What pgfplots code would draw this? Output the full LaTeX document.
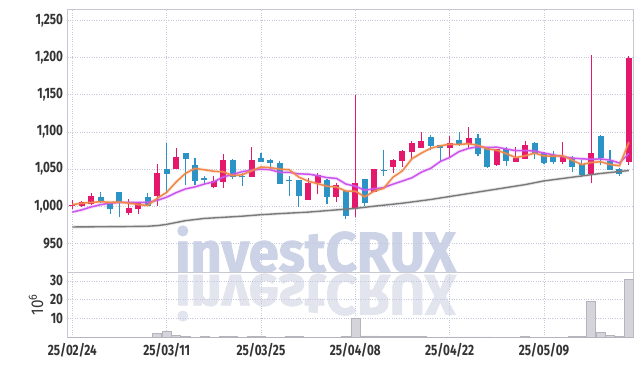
\documentclass[border=0pt]{standalone}
\usepackage{fontspec}
\setmainfont{Fira Sans}[FakeStretch=0.78]
\newfontfamily\wmfont{Fira Sans}[FakeStretch=0.95, BoldFeatures={FakeBold=1.5}]
\newfontfamily\lblfont{Fira Sans}[FakeStretch=0.9]
\usepackage{pgfplots}
\usepackage{pgfplotstable}
\pgfplotsset{compat=1.18}
\definecolor{upc}{HTML}{E5196B}
\definecolor{dnc}{HTML}{2B93C5}
\definecolor{ma5}{HTML}{F0884A}
\definecolor{ma10}{HTML}{CC55EE}
\definecolor{malong}{HTML}{7A7A7A}
\definecolor{gridc}{HTML}{C4C8DC}
\definecolor{axc}{HTML}{C8C8D2}
\definecolor{labc}{HTML}{333333}
\definecolor{volf}{HTML}{D4D4DA}
\definecolor{vold}{HTML}{B4B4BC}
\definecolor{wmc}{HTML}{CDD3E6}
\definecolor{wmr}{HTML}{E2E4EE}

\pgfplotstableread{
i o h l c
0 1000 1008 996 1002
1 1001 1007 999 1006
2 1003 1018 1002 1014
6 991 1009 988 998
7 997 1006 990 1005
9 1014 1057 1000 1045
11 1050 1078 1050 1067
15 1026 1040 1024 1034
16 1033 1070 1024 1063
19 1040 1079 1040 1063
25 1009 1038 1009 1032
26 1032 1045 1016 1042
28 1012 1031 1006 1029
30 997 1150 985 1031
32 1019 1050 1019 1050
34 1053 1064 1045 1062
35 1061 1076 1053 1074
36 1073 1088 1062 1085
37 1079 1100 1079 1088
40 1078 1095 1065 1085
42 1084 1106 1077 1092
45 1056 1077 1054 1077
47 1060 1079 1059 1065
48 1064 1088 1063 1083
52 1060 1086 1057 1067
55 1044 1204 1031 1072
59 1060 1202 1055 1200
}\candleup

\pgfplotstableread{
i o h l c
3 1013 1019 1004 1007
4 1006 1006 989 997
5 1019 1019 985 1004
8 1012 1018 1000 1001
10 1050 1085 1018 1044
12 1072 1072 1029 1064
13 1056 1065 1029 1034
14 1037 1040 1029 1036
17 1062 1064 1037 1039
18 1040 1044 1027 1039
20 1065 1072 1060 1060
21 1062 1064 1050 1058
22 1059 1061 1030 1030
23 1035 1041 1014 1034
24 1035 1035 999 1014
27 1036 1036 1003 1012
29 1021 1021 983 987
31 1037 1037 1000 1004
33 1049 1075 1041 1048
38 1093 1096 1075 1081
39 1082 1083 1061 1078
41 1089 1100 1081 1084
43 1092 1097 1067 1071
44 1078 1078 1052 1053
46 1077 1079 1054 1061
49 1085 1087 1063 1071
50 1072 1073 1057 1058
51 1069 1074 1057 1060
53 1065 1068 1046 1053
54 1057 1062 1039 1042
56 1095 1096 1055 1065
57 1061 1076 1049 1049
58 1050 1051 1040 1044
}\candledn

\pgfplotstableread{
i a b
0 1002 992
1 1004 995
2 1005 999
3 1006 1002
4 1005.2 1004
5 1005.6 1005
6 1004 1005
7 1002.2 1005
8 1001 1005
9 1010.6 1007.9
10 1018.6 1012.1
11 1032.4 1018.2
12 1044.2 1023.2
13 1050.8 1025.9
14 1049 1029.8
15 1047 1032.8
16 1046.2 1039.3
17 1041.2 1042.7
18 1042.2 1046.5
19 1047.6 1048.3
20 1052.8 1049.9
21 1051.8 1049
22 1050 1045.6
23 1049 1045.6
24 1039.2 1043.4
25 1033.6 1043.2
26 1030.4 1041.1
27 1026.8 1038.4
28 1025.8 1037.4
29 1020.4 1029.8
30 1020.2 1026.9
31 1012.6 1021.5
32 1020.2 1023.5
33 1024 1024.9
34 1039 1029.7
35 1047.6 1033.9
36 1063.8 1038.2
37 1071.4 1045.8
38 1078 1051
39 1081.2 1060.1
40 1083.4 1065.5
41 1083.2 1073.5
42 1084 1077.7
43 1082 1080
44 1077 1079.1
45 1075.4 1079.4
46 1070.8 1077
47 1065.4 1074.7
48 1067.8 1074.9
49 1071.4 1074.2
50 1067.6 1071.5
51 1067.4 1069.1
52 1067.8 1066.6
53 1061.8 1064.8
54 1056 1063.7
55 1058.8 1063.2
56 1059.8 1063.6
57 1056.2 1062
58 1054.4 1058.1
59 1086 1071
}\mas

\pgfplotstableread{
i v
0 972
3 972.3
6 972.6
8 973
9 973.8
10 975.5
11 978
12 980.5
13 982
14 983.5
16 985
18 986.5
20 988.5
22 990
25 992
28 995
30 997
32 1000
35 1004
38 1009
40 1013
42 1017
45 1023
48 1029
50 1034
53 1039
56 1044
59 1048
}\malong

\pgfplotstableread{
i v
0 0.05
1 0.05
2 0.05
3 0.05
4 0.05
5 0.05
6 0.05
7 0.05
8 0.05
9 2.0
10 3.0
11 1.0
12 0.5
13 0.05
14 0.3
15 0.05
16 0.3
17 0.3
18 0.05
19 0.3
20 0.3
21 0.05
22 0.05
23 0.3
24 0.3
25 0.05
26 0.05
27 0.05
28 0.05
29 0.4
30 10.3
31 0.8
32 0.8
33 0.5
34 0.3
35 0.3
36 0.3
37 0.3
38 0.05
39 0.05
40 0.2
41 0.2
42 0.2
43 0.2
44 0.2
45 0.05
46 0.05
47 0.05
48 0.3
49 0.05
50 0.05
51 0.05
52 0.05
53 0.3
54 0.3
55 19.0
56 2.7
57 1.0
58 0.5
59 31.0
}\vol

\pgfplotsset{
  /pgf/number format/assume math mode=true,
  every axis/.append style={
    scale only axis, width=566pt, xmin=-0.5, xmax=59.5,
    axis line style={draw=axc, line width=0.8pt},
    grid=major, grid style={dotted, color=gridc, line width=0.7pt},
    major tick length=0pt,
    xtick={0,10,20,30,40,50},
    tick label style={font=\bfseries\fontsize{15}{15}\selectfont, text=labc},
    yticklabel style={xshift=-1pt},
  },
  wick/.style={color=#1, mark=none, forget plot, line width=1.1pt,
    quiver={u=0, v=\thisrow{h}-\thisrow{l}, every arrow/.append style={-, draw=#1, line width=1.1pt}}},
  body/.style={color=#1, mark=none, forget plot, line width=6pt,
    quiver={u=0, v={max(abs(\thisrow{c}-\thisrow{o}),1.6)}, every arrow/.append style={-, draw=#1, line width=6pt}}},
}

\begin{document}
\begin{tikzpicture}
\useasboundingbox (0,0) rectangle (642pt,366pt);
\node[anchor=base west, text=wmc, font=\wmfont\bfseries\fontsize{57}{57}\selectfont, inner sep=0pt] at (175pt,94pt) {investCRUX};
\node[anchor=base west, yscale=-1, text=wmr, font=\wmfont\bfseries\fontsize{57}{57}\selectfont, inner sep=0pt] at (175pt,91pt) {investCRUX};

\begin{axis}[
  at={(67.6pt,93.7pt)}, anchor=south west, height=263pt,
  ymin=911, ymax=1265,
  ytick={950,1000,1050,1100,1150,1200,1250},
  yticklabel style={/pgf/number format/1000 sep={,}},
  xticklabels={,,,,,},
]
% wicks
\addplot[wick=upc] table[x=i, y=l] {\candleup};
\addplot[wick=dnc] table[x=i, y=l] {\candledn};
% bodies
\addplot[body=upc] table[x=i, y expr={min(\thisrow{o},\thisrow{c})-0.3}] {\candleup};
\addplot[body=dnc] table[x=i, y expr={min(\thisrow{o},\thisrow{c})-0.3}] {\candledn};
% moving averages
\addplot[malong, line width=3.2pt, opacity=0.18, forget plot] table[x=i, y=v] {\malong};
\addplot[malong, line width=1.4pt] table[x=i, y=v] {\malong};
\addplot[ma10, line width=3.4pt, opacity=0.2, forget plot] table[x=i, y=b] {\mas};
\addplot[ma10, line width=1.5pt] table[x=i, y=b] {\mas};
\addplot[ma5, line width=3.4pt, opacity=0.2, forget plot] table[x=i, y=a] {\mas};
\addplot[ma5, line width=1.5pt] table[x=i, y=a] {\mas};
\end{axis}

\begin{axis}[
  at={(67.6pt,28.7pt)}, anchor=south west, height=65pt,
  ymin=0, ymax=34.6,
  ytick={10,20,30},
  xticklabels={25/02/24,25/03/11,25/03/25,25/04/08,25/04/22,25/05/09},
  xticklabel style={yshift=-2pt},
  ylabel={\lblfont\fontsize{17}{17}\selectfont 10\textsuperscript{6}},
  ylabel style={text=labc, yshift=0pt},
]
\addplot[ybar, bar width=0.95, fill=volf, draw=vold, line width=0.5pt] table[x=i, y=v] {\vol};
\end{axis}
\end{tikzpicture}
\end{document}
